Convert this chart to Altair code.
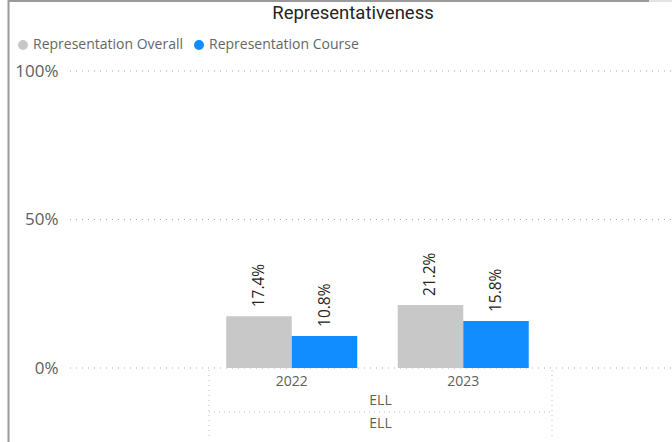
import altair as alt
import pandas as pd

title_text = "Representativeness"
years = ["2022", "2023"]
series_names = ["Representation Overall", "Representation Course"]
overall = [17.4, 21.2]
course = [10.8, 15.8]
level2_label = "ELL"
level3_label = "ELL"
colors = ["#c8c8c8", "#118dff"]
y_ticks = [0, 50, 100]

rows = []
for i, yr in enumerate(years):
    rows.append({"Year": yr, "Series": series_names[0], "Value": overall[i]})
    rows.append({"Year": yr, "Series": series_names[1], "Value": course[i]})
df = pd.DataFrame(rows)
ticks_df = pd.DataFrame({"tick": y_ticks})

W, H = 602, 297
FONT = "Open Sans"

yscale = alt.Scale(domain=[0, 100])

base = alt.Chart(df).encode(
    x=alt.X("Year:N", sort=years,
            scale=alt.Scale(domain=years, range=[136, 479], paddingInner=0.236, paddingOuter=0.118),
            axis=alt.Axis(title=None, labelAngle=0, domain=False, ticks=False, grid=False,
                          labelFontSize=14, labelColor="#605e5c", labelFont=FONT, labelPadding=6)),
    xOffset=alt.XOffset("Series:N", sort=series_names,
                        scale=alt.Scale(domain=series_names, paddingInner=0, paddingOuter=0)),
    y=alt.Y("Value:Q", scale=yscale,
            axis=alt.Axis(title=None, values=y_ticks, labelExpr="datum.value + '%'",
                          domain=False, ticks=False, grid=False, labelFontSize=17,
                          labelColor="#605e5c", labelFont=FONT, labelPadding=12)),
)

grid = alt.Chart(ticks_df).mark_rule(color="#a8a8a8", strokeDash=[1, 5], strokeWidth=1).encode(
    y=alt.Y("tick:Q", scale=yscale), x=alt.value(0), x2=alt.value(W))

bars = base.mark_bar().encode(
    color=alt.Color("Series:N", sort=series_names,
                    scale=alt.Scale(domain=series_names, range=colors),
                    legend=alt.Legend(orient="none", legendX=-54, legendY=-33, direction="horizontal",
                                      title=None, symbolType="circle", symbolSize=100,
                                      symbolStrokeWidth=0, labelFontSize=14, labelColor="#666666",
                                      labelFont=FONT, columnPadding=8, labelOffset=3, padding=0))
)

labels = base.mark_text(angle=270, align="left", baseline="middle", dx=9,
                        fontSize=15.5, font=FONT, color="#252423").encode(
    text=alt.Text("Label:N")
).transform_calculate(Label="format(datum.Value, '.1f') + '%'")

one = pd.DataFrame({"k": [0]})
dot = dict(color="#bdbdbd", strokeDash=[1, 4], strokeWidth=1)
sep_left = alt.Chart(one).mark_rule(**dot).encode(x=alt.value(139), y=alt.value(H + 2), y2=alt.value(H + 72))
sep_right = alt.Chart(one).mark_rule(**dot).encode(x=alt.value(482), y=alt.value(H + 2), y2=alt.value(H + 72))
sep_mid = alt.Chart(one).mark_rule(**dot).encode(x=alt.value(139), x2=alt.value(482), y=alt.value(H + 44))
ell1 = alt.Chart(one).mark_text(fontSize=14, font=FONT, color="#605e5c", baseline="middle").encode(
    x=alt.value(310.5), y=alt.value(H + 33), text=alt.value(level2_label))
ell2 = alt.Chart(one).mark_text(fontSize=14, font=FONT, color="#605e5c", baseline="middle").encode(
    x=alt.value(310.5), y=alt.value(H + 56), text=alt.value(level3_label))

title = alt.Chart(one).mark_text(fontSize=18.5, font="Roboto", fontWeight="normal", color="#252423",
                                 align="center", baseline="alphabetic").encode(
    x=alt.value(283), y=alt.value(-52), text=alt.value(title_text))

frame = dict(color="#9a9a9a", strokeWidth=2)
border_top = alt.Chart(one).mark_rule(**frame).encode(x=alt.value(-62), x2=alt.value(579), y=alt.value(-70))
border_top2 = alt.Chart(one).mark_rule(color="#e4e4e4", strokeWidth=2).encode(
    x=alt.value(579), x2=alt.value(W), y=alt.value(-70))
border_left = alt.Chart(one).mark_rule(**frame).encode(x=alt.value(-61.5), y=alt.value(-71), y2=alt.value(H + 80))

chart = alt.layer(
    grid, sep_left, sep_right, sep_mid, ell1, ell2, bars, labels, title,
    border_top, border_top2, border_left
).properties(
    width=W, height=H,
    autosize=alt.AutoSizeParams(type="none"),
    padding={"left": 70, "top": 71, "right": 0, "bottom": 74},
    background="white",
).configure_view(stroke=None)

chart.save("out.html", embed_options={"renderer": "svg", "actions": False})
